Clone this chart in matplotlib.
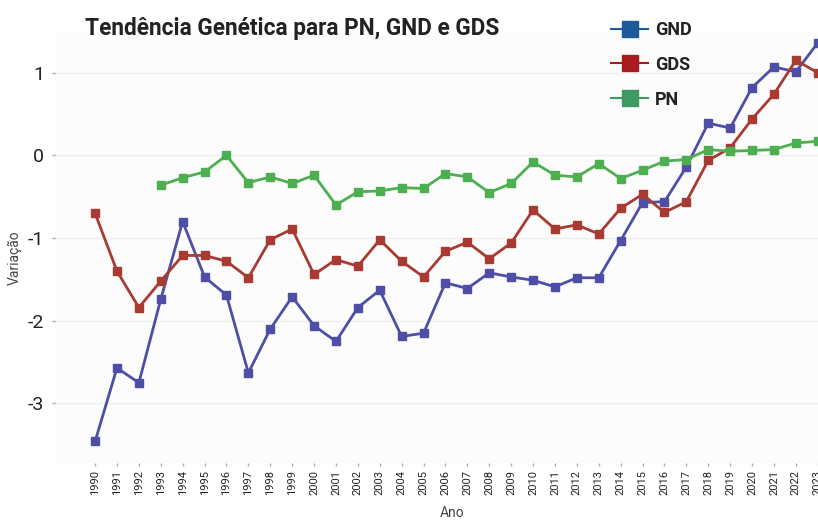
import matplotlib
matplotlib.use("Agg")
import matplotlib.pyplot as plt
from matplotlib.lines import Line2D
from matplotlib import font_manager

years = list(range(1990, 2024))
gnd = [-3.46, -2.57, -2.75, -1.74, -0.80, -1.47, -1.69, -2.63, -2.10, -1.71,
       -2.06, -2.25, -1.84, -1.63, -2.19, -2.15, -1.54, -1.61, -1.42, -1.47,
       -1.51, -1.59, -1.48, -1.48, -1.03, -0.57, -0.56, -0.14, 0.39, 0.33,
       0.82, 1.07, 1.01, 1.36]
gds = [-0.70, -1.40, -1.84, -1.52, -1.21, -1.21, -1.28, -1.48, -1.02, -0.89,
       -1.44, -1.26, -1.34, -1.02, -1.28, -1.47, -1.16, -1.05, -1.25, -1.06,
       -0.66, -0.89, -0.84, -0.95, -0.64, -0.47, -0.69, -0.56, -0.06, 0.09,
       0.44, 0.74, 1.15, 1.00]
pn_years = list(range(1993, 2024))
pn = [-0.36, -0.27, -0.20, 0.00, -0.33, -0.26, -0.34, -0.24, -0.60, -0.44,
      -0.43, -0.39, -0.40, -0.22, -0.26, -0.45, -0.34, -0.08, -0.24, -0.26,
      -0.10, -0.28, -0.18, -0.07, -0.05, 0.07, 0.05, 0.06, 0.07, 0.15, 0.17]
yticks = [-3, -2, -1, 0, 1]

avail = {f.name for f in font_manager.fontManager.ttflist}
cond = "Liberation Sans Narrow" if "Liberation Sans Narrow" in avail else "Roboto"

W, H = 818, 520
fig = plt.figure(figsize=(W / 100, H / 100), dpi=100)
left, right, bottom, top = 55, 830, 463, 33
ax = fig.add_axes([left / W, 1 - bottom / H, (right - left) / W, (bottom - top) / H])
ax.set_facecolor("#fcfcfc")
for s in ax.spines.values():
    s.set_visible(False)

c_gnd, c_gds, c_pn = "#4e4ea6", "#a93a31", "#4caf50"
ax.plot(years, gnd, color=c_gnd, lw=2, marker="s", ms=5.5, zorder=3)
ax.plot(years, gds, color=c_gds, lw=2, marker="s", ms=5.5, zorder=3)
ax.plot(pn_years, pn, color=c_pn, lw=2, marker="s", ms=5.5, zorder=3)

ax.set_xlim(1988.17, 2023.56)
ax.set_ylim(-3.72, 1.48)
ax.set_yticks(yticks)
ax.set_yticklabels([str(v) for v in yticks], fontsize=14, color="#222222", family=cond)
ax.set_xticks(years)
ax.set_xticklabels([str(y) for y in years], rotation=90, fontsize=8, color="#222222", family=cond)
ax.tick_params(axis="both", length=2, color="#aaaaaa", width=1)
ax.tick_params(axis="x", pad=3)
ax.tick_params(axis="y", pad=6)
ax.grid(axis="y", color="#f0f0f0", lw=1)
ax.set_axisbelow(True)

fig.text(15 / W, 1 - 258 / H, "Variação", rotation=90, ha="center", va="center",
         fontsize=10, color="#444444", family=cond)
fig.text(452 / W, 1 - 513 / H, "Ano", ha="center", va="center",
         fontsize=10, color="#444444", family=cond)
fig.text(85 / W, 1 - 28 / H, "Tendência Genética para PN, GND e GDS", ha="left", va="center",
         fontsize=16.3, fontweight="bold", color="#222222", family=cond)

handles = [
    Line2D([], [], color="#1c5a9a", lw=1.5, marker="s", ms=11, mec="#1c5a9a", mfc="#1c5a9a"),
    Line2D([], [], color="#a81c1f", lw=1.5, marker="s", ms=11, mec="#a81c1f", mfc="#a81c1f"),
    Line2D([], [], color="#3d9a62", lw=1.5, marker="s", ms=11, mec="#3d9a62", mfc="#3d9a62"),
]
leg = fig.legend(handles, ["GND", "GDS", "PN"], loc="upper left",
                 bbox_to_anchor=(611 / W, 1 - 21 / H), frameon=False, borderpad=0,
                 borderaxespad=0,
                 prop={"family": cond, "weight": "bold", "size": 13},
                 handlelength=2.05, labelspacing=0.93, handletextpad=0.4)
for t in leg.get_texts():
    t.set_color("#222222")

fig.savefig("out.png", dpi=100)
